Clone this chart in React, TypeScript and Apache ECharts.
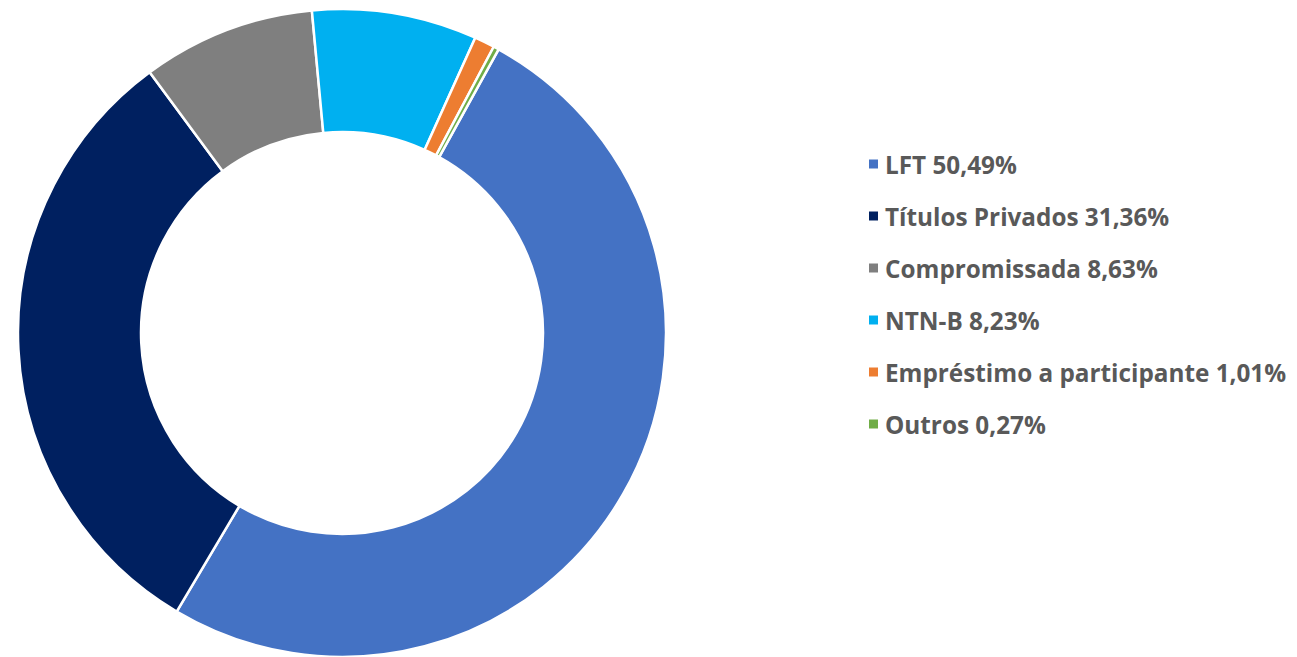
import React, { useEffect, useRef } from "react";
import * as echarts from "echarts";

const categories = ["LFT", "Títulos Privados", "Compromissada", "NTN-B", "Empréstimo a participante", "Outros"];
const values = [50.49, 31.36, 8.63, 8.23, 1.01, 0.27];
const colors = ["#4472C4", "#002060", "#7F7F7F", "#00B0F0", "#ED7D31", "#70AD47"];

export default function App() {
  const ref = useRef<HTMLDivElement>(null);
  useEffect(() => {
    if (!ref.current) return;
    const chart = echarts.init(ref.current, undefined, { renderer: "svg" });
    const valueMap: Record<string, number> = {};
    categories.forEach((c, i) => (valueMap[c] = values[i]));
    chart.setOption({
      animation: false,
      backgroundColor: "#ffffff",
      color: colors,
      legend: {
        orient: "vertical",
        left: 862,
        top: 147,
        icon: "rect",
        itemWidth: 11,
        itemHeight: 11,
        itemGap: 28,
        data: categories,
        formatter: (name: string) => `${name} ${valueMap[name].toFixed(2).replace(".", ",")}%`,
        textStyle: {
          fontFamily: "Open Sans",
          fontWeight: "bold",
          fontSize: 24.3,
          color: "#595959",
          lineHeight: 20,
          padding: [0, 0, 0, 1],
        },
      },
      series: [
        {
          type: "pie",
          center: [342, 333],
          radius: [201, 324],
          startAngle: 61.1,
          clockwise: true,
          label: { show: false },
          labelLine: { show: false },
          emphasis: { disabled: true },
          itemStyle: { borderColor: "#ffffff", borderWidth: 2.5 },
          data: categories.map((c, i) => ({ name: c, value: values[i] })),
        },
      ],
    });
    return () => chart.dispose();
  }, []);
  return (
    <div
      ref={ref}
      style={{ position: "fixed", left: 0, top: 0, width: 1297, height: 657 }}
    />
  );
}
